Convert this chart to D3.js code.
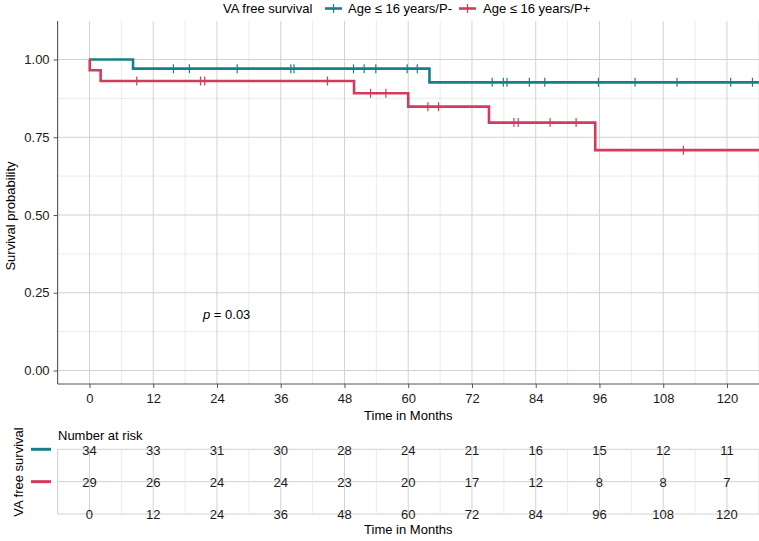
<!DOCTYPE html>
<html><head><meta charset="utf-8">
<script src="https://cdn.jsdelivr.net/npm/d3@7"></script>
<style>
html,body{margin:0;padding:0;background:#fff;}
svg{display:block;font-family:"Liberation Sans",Arial,Helvetica,sans-serif;}
</style></head>
<body>
<svg id="chart" width="759" height="541"></svg>
<script>
// ---- data ----
const seriesNames = ["Age \u2264 16 years/P-", "Age \u2264 16 years/P+"];
const seriesColors = ["#16808A", "#D5395B"];
// step curves: event times and survival after each event
const tealTimes = [0, 8.2, 64.0];
const tealSurv  = [1, 0.9706, 0.9265];
const redTimes  = [0, 0.05, 2.1, 49.8, 60.0, 75.2, 95.2];
const redSurv   = [1, 0.9655, 0.9310, 0.8914, 0.8484, 0.7971, 0.7085];
// censoring times
const tealCensor = [15.8, 18.8, 27.8, 37.9, 38.5, 49.7, 51.7, 53.9, 59.8, 61.7, 75.8, 77.9, 78.6, 82.8, 85.7, 95.8, 102.7, 110.6, 120.7, 124.8];
const redCensor  = [8.9, 20.9, 21.7, 44.8, 52.9, 55.8, 63.7, 65.7, 79.9, 80.7, 86.7, 91.6, 111.8];
const endTime = 126;
// risk table
const riskTimes = [0, 12, 24, 36, 48, 60, 72, 84, 96, 108, 120];
const tealRisk = [34, 33, 31, 30, 28, 24, 21, 16, 15, 12, 11];
const redRisk  = [29, 26, 24, 24, 23, 20, 17, 12, 8, 8, 7];
const xTickVals = [0, 12, 24, 36, 48, 60, 72, 84, 96, 108, 120];
const xMinorVals = [-6, 6, 18, 30, 42, 54, 66, 78, 90, 102, 114, 126];
const yTickVals = [0, 0.25, 0.5, 0.75, 1];
const yMinorVals = [0.125, 0.375, 0.625, 0.875];
const pText = "0.03";

// ---- layout ----
const svg = d3.select("#chart");
const panel = {left: 57.6, right: 759, top: 21, bottom: 384};
const x = d3.scaleLinear().domain([-6, 126]).range([57.6, 758.85]);
const y = d3.scaleLinear().domain([0, 1]).range([370.5, 59.5]);
const fs = 13;
const majorCol = "#d2d2d2", minorCol = "#e6e6e6";

// grid
const g = svg.append("g");
g.selectAll(".ymin").data(yMinorVals).enter().append("line")
  .attr("x1", panel.left).attr("x2", panel.right).attr("y1", d => y(d)).attr("y2", d => y(d))
  .attr("stroke", minorCol).attr("stroke-width", 0.8);
g.selectAll(".xmin").data(xMinorVals).enter().append("line")
  .attr("x1", d => x(d)).attr("x2", d => x(d)).attr("y1", panel.top).attr("y2", panel.bottom)
  .attr("stroke", minorCol).attr("stroke-width", 0.8);
g.selectAll(".ymaj").data(yTickVals).enter().append("line")
  .attr("x1", panel.left).attr("x2", panel.right).attr("y1", d => y(d)).attr("y2", d => y(d))
  .attr("stroke", majorCol).attr("stroke-width", 1);
g.selectAll(".xmaj").data(xTickVals).enter().append("line")
  .attr("x1", d => x(d)).attr("x2", d => x(d)).attr("y1", panel.top).attr("y2", panel.bottom)
  .attr("stroke", majorCol).attr("stroke-width", 1);

// axes
const yAxis = d3.axisLeft(y).tickValues(yTickVals).tickFormat(d3.format(".2f")).tickSize(4).tickPadding(4);
const ya = svg.append("g").attr("transform", `translate(${panel.left},0)`).call(yAxis);
ya.select(".domain").attr("d", `M0,${panel.top}V${panel.bottom}`).attr("stroke", "#555").attr("stroke-width", 1.1);
ya.selectAll(".tick line").attr("stroke", "#555");
ya.selectAll(".tick text").attr("font-size", fs).attr("fill", "#1a1a1a").attr("font-family", null);

const xAxis = d3.axisBottom(x).tickValues(xTickVals).tickSize(4).tickPadding(6);
const xa = svg.append("g").attr("transform", `translate(0,${panel.bottom})`).call(xAxis);
xa.select(".domain").attr("d", `M${panel.left},0H${panel.right}`).attr("stroke", "#555").attr("stroke-width", 1.1);
xa.selectAll(".tick line").attr("stroke", "#555");
xa.selectAll(".tick text").attr("font-size", fs).attr("fill", "#1a1a1a").attr("font-family", null);

svg.append("text").attr("x", (panel.left + panel.right) / 2).attr("y", 419.5)
  .attr("text-anchor", "middle").attr("font-size", fs).text("Time in Months");
svg.append("text").attr("transform", "translate(15,216) rotate(-90)")
  .attr("text-anchor", "middle").attr("font-size", fs).text("Survival probability");

// curves
svg.append("clipPath").attr("id", "clip").append("rect")
  .attr("x", panel.left).attr("y", panel.top).attr("width", panel.right - panel.left).attr("height", panel.bottom - panel.top);
const plot = svg.append("g").attr("clip-path", "url(#clip)");
function stepPts(times, surv) {
  const pts = times.map((t, i) => [t, surv[i]]);
  pts.push([endTime + 2, surv[surv.length - 1]]);
  return pts;
}
function survAt(times, surv, t) {
  let s = surv[0];
  for (let i = 0; i < times.length; i++) if (times[i] <= t) s = surv[i];
  return s;
}
const line = d3.line().x(d => x(d[0])).y(d => y(d[1])).curve(d3.curveStepAfter);
const curves = [
  {times: tealTimes, surv: tealSurv, cens: tealCensor, color: seriesColors[0]},
  {times: redTimes, surv: redSurv, cens: redCensor, color: seriesColors[1]}
];
curves.forEach(c => {
  plot.append("path").datum(stepPts(c.times, c.surv)).attr("d", line)
    .attr("fill", "none").attr("stroke", c.color).attr("stroke-width", 2.6);
  plot.selectAll(null).data(c.cens).enter().append("line")
    .attr("x1", d => x(d)).attr("x2", d => x(d))
    .attr("y1", d => y(survAt(c.times, c.surv, d)) - 4.5)
    .attr("y2", d => y(survAt(c.times, c.surv, d)) + 4.5)
    .attr("stroke", c.color).attr("stroke-width", 1.2);
});

// p-value
const pt = svg.append("text").attr("x", 203).attr("y", 319).attr("font-size", fs);
pt.append("tspan").attr("font-style", "italic").text("p");
pt.append("tspan").text(" = " + pText);

// legend
const leg = svg.append("g");
leg.append("text").attr("x", 223).attr("y", 13).attr("font-size", fs).text("VA free survival");
const legX = [325, 459], legTX = [348, 483];
seriesNames.forEach((n, i) => {
  leg.append("line").attr("x1", legX[i]).attr("x2", legX[i] + 17).attr("y1", 8.5).attr("y2", 8.5)
    .attr("stroke", seriesColors[i]).attr("stroke-width", 2.6);
  leg.append("line").attr("x1", legX[i] + 8.5).attr("x2", legX[i] + 8.5).attr("y1", 4).attr("y2", 13)
    .attr("stroke", seriesColors[i]).attr("stroke-width", 1.2);
  leg.append("text").attr("x", legTX[i]).attr("y", 13).attr("font-size", fs).text(n);
});

// risk table
const rowY = d3.scalePoint().domain(["s1", "s2", "t"]).range([449.3, 514]);
const tg = svg.append("g");
tg.selectAll(".rh").data(rowY.domain()).enter().append("line")
  .attr("x1", panel.left).attr("x2", panel.right).attr("y1", d => rowY(d)).attr("y2", d => rowY(d))
  .attr("stroke", majorCol).attr("stroke-width", 1);
tg.selectAll(".rvmin").data(xMinorVals).enter().append("line")
  .attr("x1", d => x(d)).attr("x2", d => x(d)).attr("y1", rowY("s1")).attr("y2", rowY("t"))
  .attr("stroke", minorCol).attr("stroke-width", 0.8);
tg.selectAll(".rvmaj").data(xTickVals).enter().append("line")
  .attr("x1", d => x(d)).attr("x2", d => x(d)).attr("y1", rowY("s1")).attr("y2", rowY("t"))
  .attr("stroke", majorCol).attr("stroke-width", 1);
tg.append("line").attr("x1", panel.left).attr("x2", panel.left).attr("y1", rowY("s1")).attr("y2", rowY("t"))
  .attr("stroke", majorCol).attr("stroke-width", 1);

[["s1", tealRisk], ["s2", redRisk]].forEach(([k, vals]) => {
  tg.selectAll(null).data(vals).enter().append("text")
    .attr("x", (d, i) => x(riskTimes[i])).attr("y", rowY(k) + 5.5)
    .attr("text-anchor", "middle").attr("font-size", fs).attr("fill", "#1a1a1a").text(d => d);
});
tg.selectAll(null).data(xTickVals).enter().append("text")
  .attr("x", d => x(d)).attr("y", rowY("t") + 4.5)
  .attr("text-anchor", "middle").attr("font-size", fs).attr("fill", "#1a1a1a").text(d => d);
[["s1", 0], ["s2", 1]].forEach(([k, i]) => {
  tg.append("line").attr("x1", 31).attr("x2", 51).attr("y1", rowY(k)).attr("y2", rowY(k))
    .attr("stroke", seriesColors[i]).attr("stroke-width", 3);
});
svg.append("text").attr("x", 58).attr("y", 440).attr("font-size", fs).text("Number at risk");
svg.append("text").attr("x", (panel.left + panel.right) / 2).attr("y", 534)
  .attr("text-anchor", "middle").attr("font-size", fs).text("Time in Months");
svg.append("text").attr("transform", "translate(23,472) rotate(-90)")
  .attr("text-anchor", "middle").attr("font-size", fs).text("VA free survival");
</script>
</body></html>
